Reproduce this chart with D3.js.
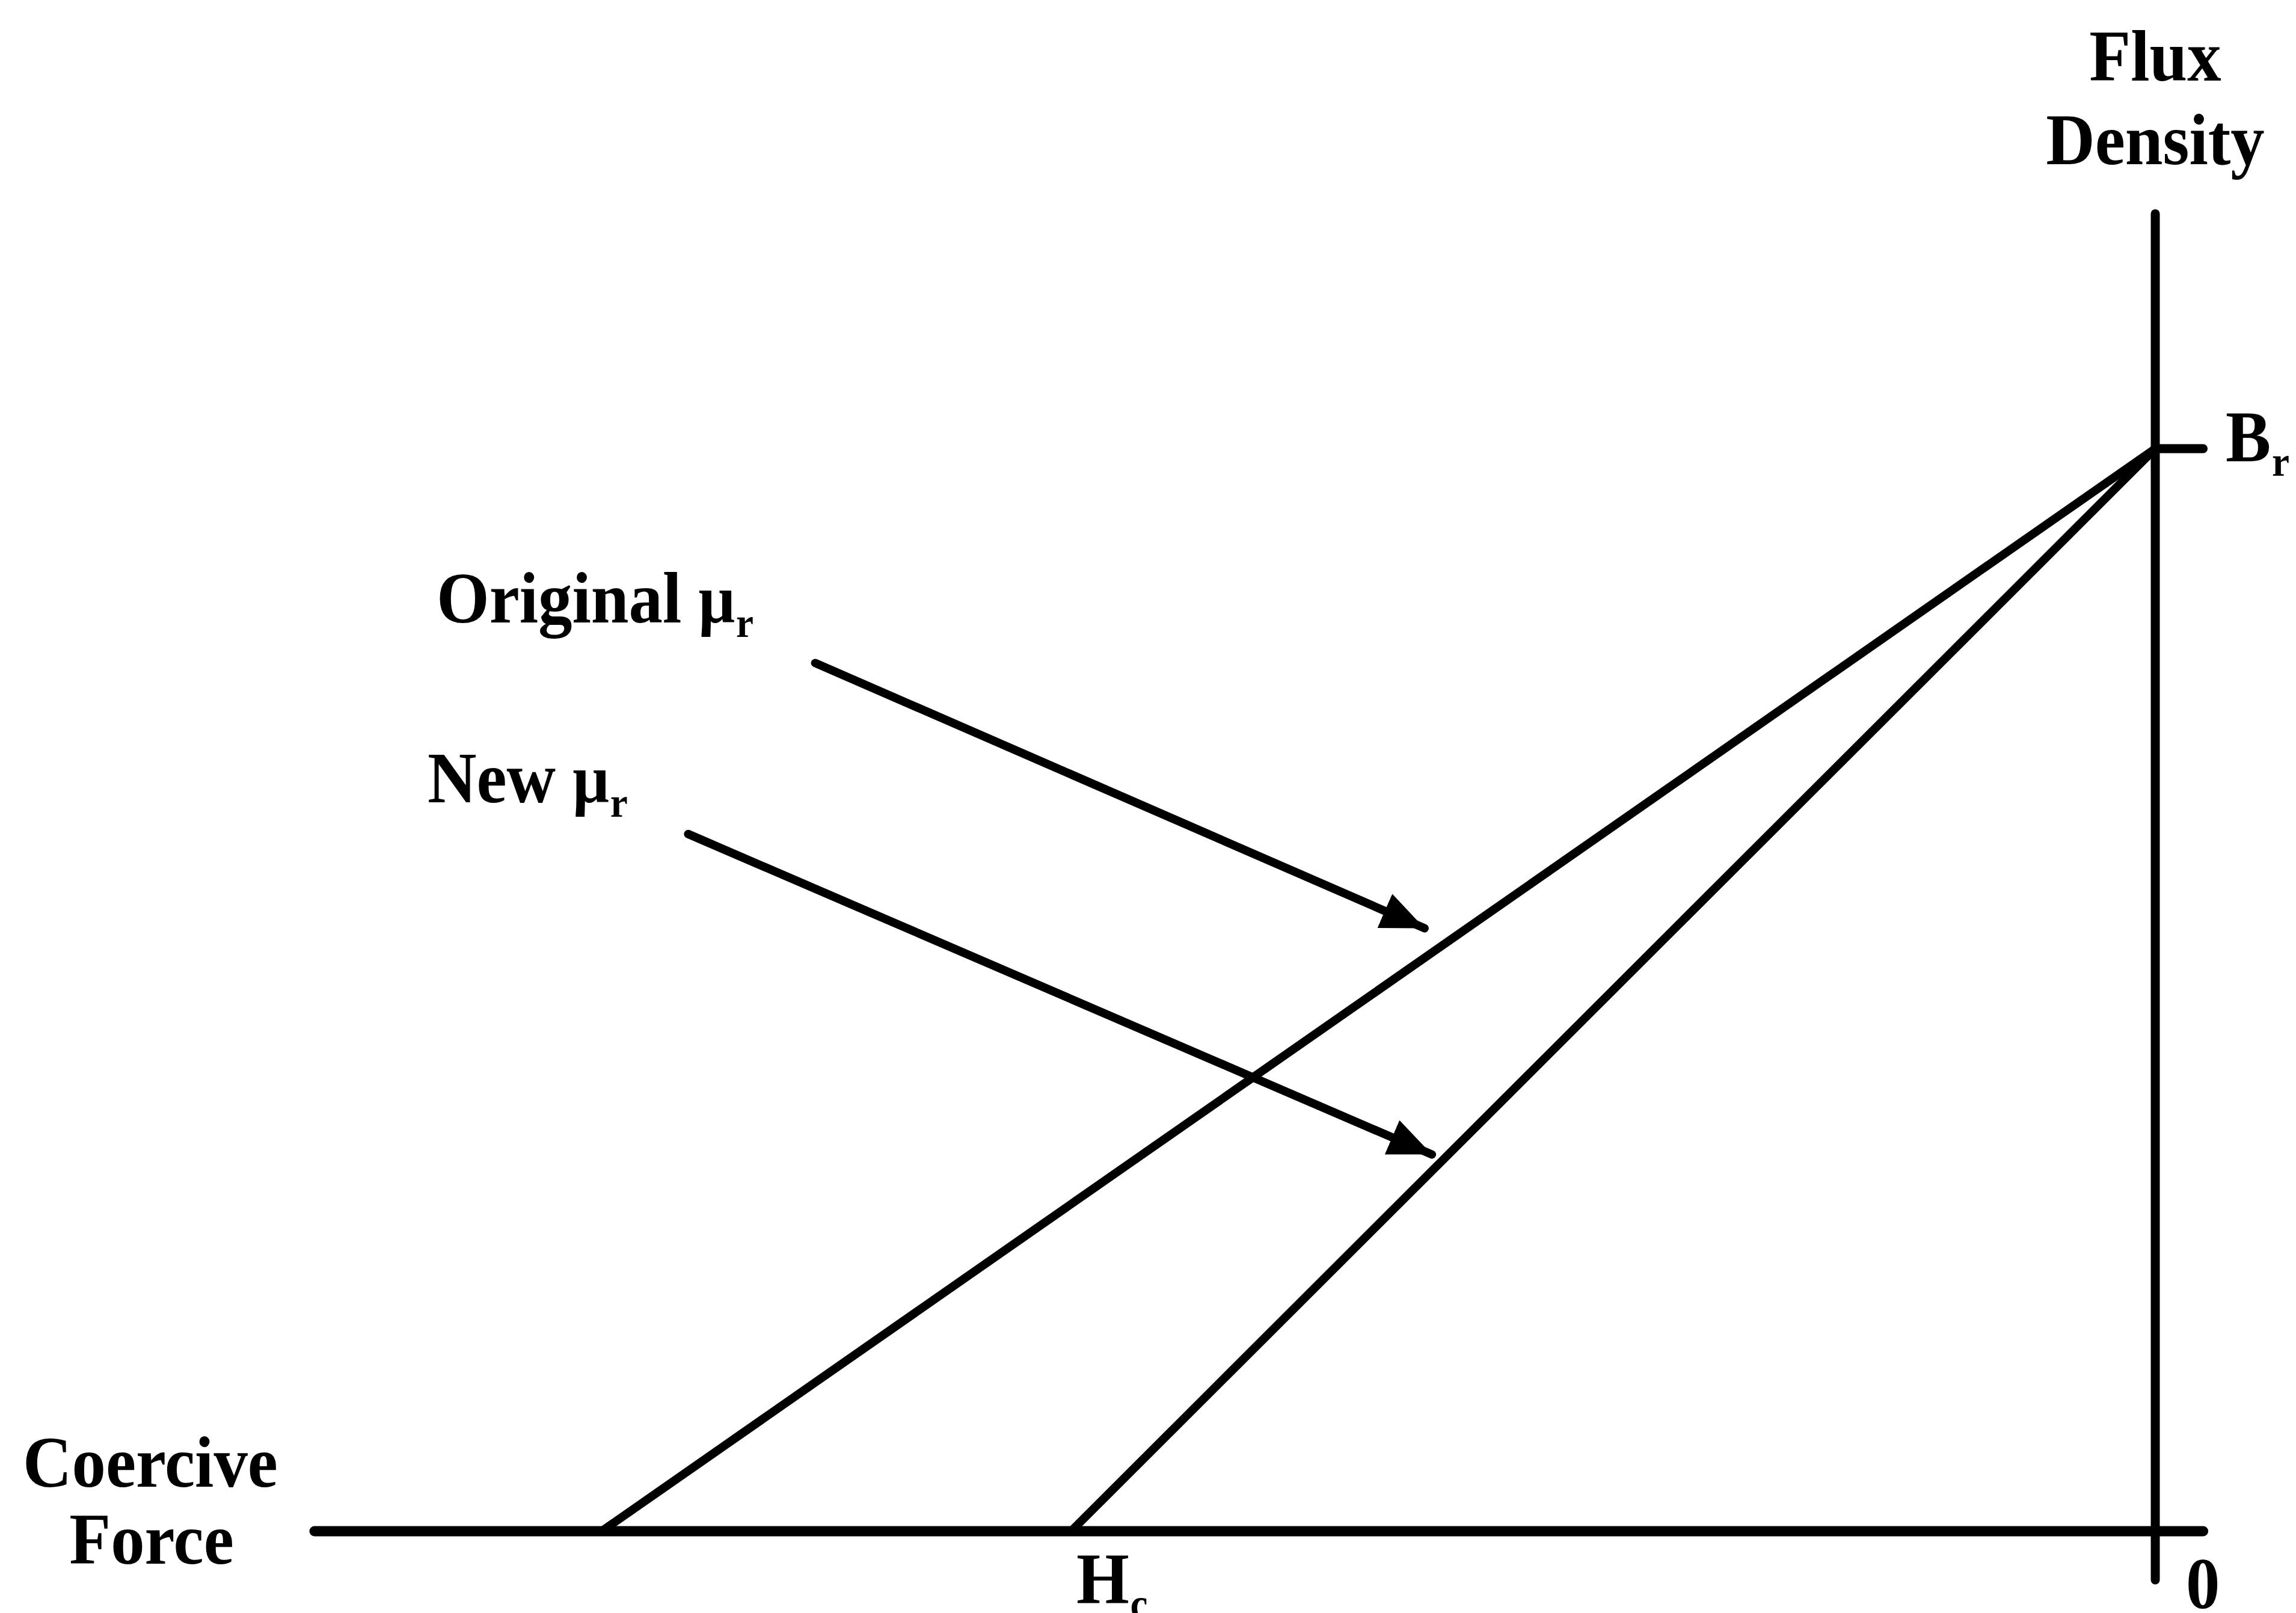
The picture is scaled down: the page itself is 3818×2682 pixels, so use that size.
<!DOCTYPE html>
<html>
<head>
<meta charset="utf-8">
<script src="https://cdn.jsdelivr.net/npm/d3@7"></script>
<style>
  html, body { margin: 0; padding: 0; background: #fff; }
  svg { display: block; }
  text { font-family: "Liberation Serif", "Times New Roman", serif; font-weight: bold; fill: #000; }
</style>
</head>
<body>
<script>
// ---- data (H = coercive force axis, B = flux density axis) ----
const seriesNames = ["Original μr", "New μr"];
const interceptH = [-844, -589];          // H where each recoil line meets B = 0
const remanenceB = 1.0;                   // Br
const hAxisExtent = [-1000, 26];          // horizontal axis line, H units
const bAxisExtent = [-0.045, 1.217];      // vertical axis line, B units
const arrowStartH = [-728, -797];
const arrowStartB = [0.802, 0.644];
const arrowEndH = [-397, -393];
const arrowEndB = [0.557, 0.348];
const tickLabels = { br: "B", brSub: "r", hc: "H", hcSub: "c", zero: "0" };
const axisTitles = { y: ["Flux", "Density"], x: ["Coercive", "Force"] };

// ---- layout ----
const W = 3818, H = 2682;
const FS = 120, SX = 0.94;
const x = d3.scaleLinear().domain([-1000, 0]).range([523, 3584]);
const y = d3.scaleLinear().domain([0, 1]).range([2546, 746]);

const svg = d3.select("body").append("svg").attr("width", W).attr("height", H);
svg.append("rect").attr("width", W).attr("height", H).attr("fill", "#fff");

svg.append("defs").append("marker")
  .attr("id", "ah").attr("markerUnits", "userSpaceOnUse")
  .attr("viewBox", "0 0 72 62").attr("refX", 72).attr("refY", 31)
  .attr("markerWidth", 72).attr("markerHeight", 62).attr("orient", "auto")
  .append("path").attr("d", "M0,0 L72,31 L0,62 Z").attr("fill", "#000");

// axes
svg.append("line")
  .attr("x1", x(hAxisExtent[0])).attr("x2", x(hAxisExtent[1]))
  .attr("y1", y(0)).attr("y2", y(0))
  .attr("stroke", "#000").attr("stroke-width", 17).attr("stroke-linecap", "round");
svg.append("line")
  .attr("x1", x(0)).attr("x2", x(0))
  .attr("y1", y(bAxisExtent[0])).attr("y2", y(bAxisExtent[1]))
  .attr("stroke", "#000").attr("stroke-width", 15).attr("stroke-linecap", "round");
// Br tick
svg.append("line")
  .attr("x1", x(0)).attr("x2", x(hAxisExtent[1]))
  .attr("y1", y(remanenceB)).attr("y2", y(remanenceB))
  .attr("stroke", "#000").attr("stroke-width", 15).attr("stroke-linecap", "round");

// recoil lines
const lineGen = d3.line().x(d => x(d[0])).y(d => y(d[1]));
svg.selectAll("path.recoil").data(interceptH).join("path")
  .attr("class", "recoil")
  .attr("d", h => lineGen([[h, 0], [0, remanenceB]]))
  .attr("fill", "none").attr("stroke", "#000").attr("stroke-width", 14);

// arrows
svg.selectAll("line.arrow").data(seriesNames).join("line")
  .attr("class", "arrow")
  .attr("x1", (d, i) => x(arrowStartH[i])).attr("y1", (d, i) => y(arrowStartB[i]))
  .attr("x2", (d, i) => x(arrowEndH[i])).attr("y2", (d, i) => y(arrowEndB[i]))
  .attr("stroke", "#000").attr("stroke-width", 14).attr("stroke-linecap", "round")
  .attr("marker-end", "url(#ah)");

// text helper
function label(px, py, anchor, parts) {
  const g = svg.append("g").attr("transform", `translate(${px},${py}) scale(${SX},1)`);
  const t = g.append("text").attr("text-anchor", anchor).attr("font-size", FS);
  parts.forEach(p => {
    const ts = t.append("tspan").text(p.t);
    if (p.sub) ts.attr("font-size", FS * 0.58).attr("dy", FS * 0.2).attr("dx", 2);
    if (p.sym) ts.attr("font-size", FS * 0.95);
  });
  return t;
}

// series labels
label(726, 1035, "start", [{ t: "Original " }, { t: "μ", sym: true }, { t: "r", sub: true }]);
label(711, 1334, "start", [{ t: "New " }, { t: "μ", sym: true }, { t: "r", sub: true }]);

// axis titles
label(x(0), 134, "middle", [{ t: axisTitles.y[0] }]);
label(x(0), 273, "middle", [{ t: axisTitles.y[1] }]);
label(250, 2472, "middle", [{ t: axisTitles.x[0] }]);
label(252, 2600, "middle", [{ t: axisTitles.x[1] }]);

// tick labels
label(3701, 767, "start", [{ t: tickLabels.br }, { t: tickLabels.brSub, sub: true }]);
label(1790, 2666, "start", [{ t: tickLabels.hc }, { t: tickLabels.hcSub, sub: true }]);
label(3635, 2674, "start", [{ t: tickLabels.zero }]);
</script>
</body>
</html>
